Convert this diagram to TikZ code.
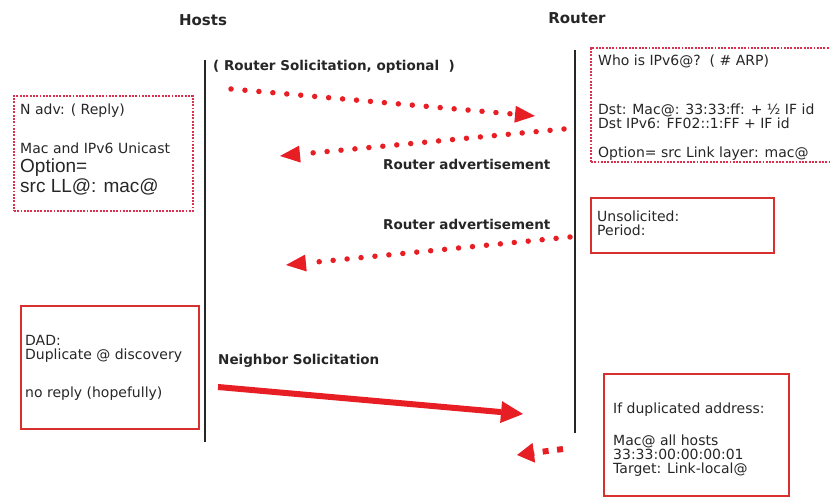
\documentclass[tikz,border=0pt]{standalone}
\usepackage{fontspec}
\setmainfont{DejaVu Sans}
\newfontfamily\arialf{Liberation Sans}
\usetikzlibrary{arrows.meta}
\definecolor{arrred}{HTML}{E81E25}
\definecolor{boxred}{HTML}{D8302F}
\definecolor{dotred}{HTML}{DC3050}
\definecolor{txt}{HTML}{262626}
\begin{document}
\begin{tikzpicture}[x=1pt,y=-1pt,
  hdr/.style={font=\fontsize{15}{18}\selectfont\bfseries, text=txt, inner sep=0pt},
  lbl/.style={font=\fontsize{13.5}{16}\selectfont\bfseries, text=txt, inner sep=0pt, anchor=west},
  body/.style={font=\fontsize{14}{14}\selectfont, text=txt, inner sep=0pt, anchor=west, align=left},
  big/.style={font=\arialf\fontsize{19}{19}\selectfont, text=txt, inner sep=0pt, anchor=west, align=left},
  dotbox/.style={draw=dotred, line width=1.9pt, dash pattern=on 1.9pt off 1.4pt, anchor=north west, inner sep=0pt},
  solidbox/.style={draw=boxred, line width=1.8pt, anchor=north west, inner sep=0pt},
  lifeline/.style={draw=black!85, line width=1.8pt},
  dotarrow/.style={draw=arrred, line width=5.5pt, line cap=round, dash pattern=on 0pt off 14pt,
    -{Triangle[length=20pt,width=17pt,line width=0pt]}},
  solidarrow/.style={draw=arrred, line width=6pt, -{Triangle[length=22pt,width=22pt,line width=0pt]}},
  shortarrow/.style={draw=arrred, line width=6pt, dash pattern=on 6pt off 8.5pt,
    -{Triangle[length=17pt,width=20pt,line width=0pt]}}
]
\useasboundingbox (0,0) rectangle (830,497);

% headers
\node[hdr] (hosts) at (203,20) {Hosts};
\node[hdr] (router) at (577,18) {Router};

% lifelines
\coordinate (ht) at (205,60);
\coordinate (hb) at (205,442);
\coordinate (rt) at (575,50);
\coordinate (rb) at (575,433);
\draw[lifeline] (ht) -- (hb);
\draw[lifeline] (rt) -- (rb);

% boxes
\node[dotbox, minimum width=179pt, minimum height=115pt] (nadv) at (13,95) {};
\node[dotbox, minimum width=245pt, minimum height=114pt] (whois) at (590,47) {};
\node[solidbox, minimum width=183pt, minimum height=55pt] (unsol) at (590,197) {};
\node[solidbox, minimum width=178pt, minimum height=123pt] (dad) at (20,305) {};
\node[solidbox, minimum width=185pt, minimum height=122pt] (dup) at (603,373) {};

% box texts
\node[body] (t1) at (20,111) {N adv: ( Reply)};
\node[body] (t2) at (20,148) {Mac and IPv6 Unicast};
\node[big] (t3) at (20,168) {Option=};
\node[big] (t4) at (20,187) {src LL@: mac@};

\node[body] (w1) at (598,61) {Who is IPv6@?~~( \# ARP)};
\node[body] (w2) at (598,116.5) {Dst: Mac@: 33:33:ff: + ½ IF id\\Dst IPv6: FF02::1:FF + IF id};
\node[body] (w3) at (598,154) {Option= src Link layer: mac@};

\node[body] (u1) at (597,223) {Unsolicited:\\Period:};

\node[body] (d1) at (25,349) {DAD:\\Duplicate @ discovery};
\node[body] (d2) at (25,394) {no reply (hopefully)};

\node[body] (f1) at (613,410) {If duplicated address:};
\node[body] (f2) at (613,456) {Mac@ all hosts\\33:33:00:00:00:01\\Target: Link-local@};

% labels
\node[lbl] (rs) at (213,67) {( Router Solicitation, optional~~)};
\node[lbl] (ra1) at (383,164) {Router advertisement};
\node[lbl] (ra2) at (383,224) {Router advertisement};
\node[lbl] (ns) at (218,361) {Neighbor Solicitation};

% arrows
\coordinate (a1s) at (231,89);
\coordinate (a1e) at (535,116);
\coordinate (a2s) at (564,129);
\coordinate (a2e) at (280,156);
\coordinate (a3s) at (570,237);
\coordinate (a3e) at (286,265);
\coordinate (a4s) at (218,387);
\coordinate (a4e) at (523,414);
\coordinate (a5s) at (563,449);
\coordinate (a5e) at (517,455);
\draw[dotarrow] (a1s) -- (a1e);
\draw[dotarrow] (a2s) -- (a2e);
\draw[dotarrow] (a3s) -- (a3e);
\draw[solidarrow] (a4s) -- (a4e);
\draw[shortarrow] (a5s) -- (a5e);
\end{tikzpicture}
\end{document}
